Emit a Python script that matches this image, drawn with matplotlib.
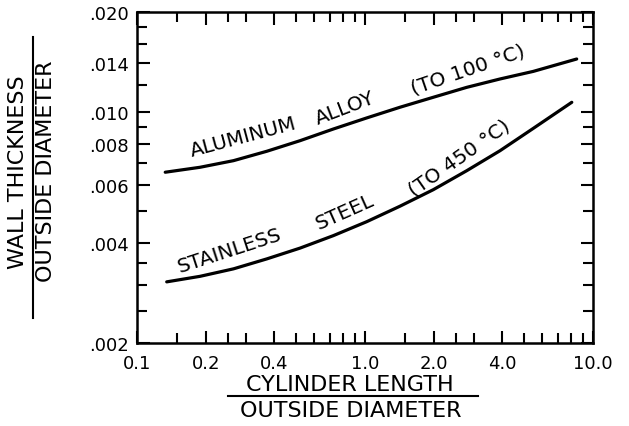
import matplotlib
matplotlib.use("Agg")
import matplotlib.pyplot as plt
from matplotlib.lines import Line2D
from matplotlib.ticker import FixedLocator, NullFormatter

# curves (L/D vs t/D)
al_x = [0.133, 0.189, 0.265, 0.371, 0.519, 0.726, 1.017, 1.424, 1.993,
        2.793, 3.91, 5.47, 8.48]
al_y = [0.00656, 0.00679, 0.00711, 0.00759, 0.00817, 0.00886, 0.00957,
        0.01031, 0.01105, 0.01184, 0.01255, 0.01323, 0.01442]

ss_x = [0.135, 0.189, 0.265, 0.371, 0.519, 0.726, 1.017, 1.424, 1.993,
        2.793, 3.91, 5.47, 8.07]
ss_y = [0.00306, 0.00318, 0.00335, 0.00359, 0.00387, 0.00422, 0.00465,
        0.00518, 0.00581, 0.00663, 0.00762, 0.00890, 0.01067]

x_major = [0.1, 0.2, 0.4, 1.0, 2.0, 4.0, 10.0]
x_labels = ["0.1", "0.2", "0.4", "1.0", "2.0", "4.0", "10.0"]
x_minor = [0.15, 0.25, 0.3, 0.5, 0.6, 0.7, 0.8, 0.9, 1.5, 2.5, 3, 5, 6, 7, 8, 9]

y_major = [0.002, 0.004, 0.006, 0.008, 0.010, 0.014, 0.020]
y_labels = [".002", ".004", ".006", ".008", ".010", ".014", ".020"]
y_minor = [0.0025, 0.003, 0.0035, 0.005, 0.007, 0.009, 0.012, 0.016, 0.018]

fig = plt.figure(figsize=(6.29, 4.27), dpi=100)
ax = fig.add_axes([0.2178, 0.1944, 0.725, 0.7752])

ax.plot(al_x, al_y, color="black", lw=2.3, solid_capstyle="round")
ax.plot(ss_x, ss_y, color="black", lw=2.3, solid_capstyle="round")

ax.set_xscale("log")
ax.set_yscale("log")
ax.set_xlim(0.1, 10)
ax.set_ylim(0.002, 0.020)

ax.xaxis.set_major_locator(FixedLocator(x_major))
ax.xaxis.set_minor_locator(FixedLocator(x_minor))
ax.set_xticklabels(x_labels)
ax.xaxis.set_minor_formatter(NullFormatter())
ax.yaxis.set_major_locator(FixedLocator(y_major))
ax.yaxis.set_minor_locator(FixedLocator(y_minor))
ax.set_yticklabels(y_labels)
ax.yaxis.set_minor_formatter(NullFormatter())

ax.tick_params(which="both", direction="in", top=True, right=True,
               width=1.5, labelsize=13)
ax.tick_params(which="major", length=9)
ax.tick_params(which="minor", length=7)
ax.tick_params(axis="x", which="major", pad=8)
ax.tick_params(axis="y", which="major", pad=6)
for s in ax.spines.values():
    s.set_linewidth(1.8)

# curve labels, written along the lines
txt = dict(fontsize=14.5, color="black", ha="left", va="baseline",
           rotation_mode="anchor")
ax.text(0.174, 0.00736, "ALUMINUM", rotation=15, **txt)
ax.text(0.624, 0.00918, "ALLOY", rotation=21, **txt)
ax.text(1.628, 0.0113, "(TO 100 °C)", rotation=19, **txt)
ax.text(0.154, 0.00327, "STAINLESS", rotation=18, **txt)
ax.text(0.624, 0.00442, "STEEL", rotation=24, **txt)
ax.text(1.628, 0.00557, "(TO 450 °C)", rotation=35, **txt)

# axis titles as fractions
fig.text(0.0286, 0.597, "WALL THICKNESS", rotation=90, ha="center",
         va="center", fontsize=16)
fig.text(0.073, 0.60, "OUTSIDE DIAMETER", rotation=90, ha="center",
         va="center", fontsize=16)
fig.add_artist(Line2D([0.0525, 0.0525], [0.252, 0.91], color="black",
                      lw=1.5, transform=fig.transFigure))

fig.text(0.556, 0.098, "CYLINDER LENGTH", ha="center", va="center",
         fontsize=16)
fig.text(0.558, 0.037, "OUTSIDE DIAMETER", ha="center", va="center",
         fontsize=16)
fig.add_artist(Line2D([0.362, 0.760], [0.070, 0.070], color="black",
                      lw=1.5, transform=fig.transFigure))

plt.savefig("out.png", dpi=100)
